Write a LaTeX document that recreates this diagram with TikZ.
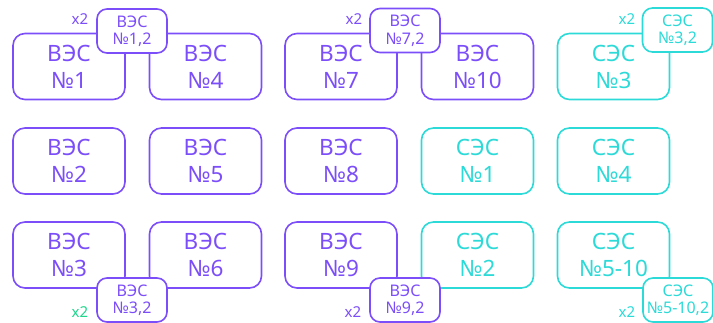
\documentclass[tikz,border=0pt]{standalone}
\usepackage{fontspec}
\setmainfont{Noto Sans}
\definecolor{vio}{RGB}{124,78,250}
\definecolor{cya}{RGB}{44,218,216}
\definecolor{grn}{RGB}{30,214,140}
\begin{document}
\begin{tikzpicture}[x=1pt,y=-1pt,
  bigbox/.style={draw,line width=1.6pt,rounded corners=12pt,minimum width=112pt,minimum height=66pt,align=center,inner sep=0pt,font=\fontsize{22.5}{27}\selectfont,fill=white},
  smallbox/.style={draw,line width=1.6pt,rounded corners=10pt,minimum width=70pt,minimum height=44pt,align=center,inner sep=0pt,font=\fontsize{16}{17.5}\selectfont,fill=white},
  ves/.style={draw=vio,text=vio},
  ses/.style={draw=cya,text=cya},
  xlab/.style={font=\fontsize{15}{15}\selectfont,inner sep=0pt}]
\useasboundingbox (0,0) rectangle (713,323);
% row 1
\node[bigbox,ves] (v1) at (69,66.5) {ВЭС\\№1};
\node[bigbox,ves] (v4) at (205.5,66.5) {ВЭС\\№4};
\node[bigbox,ves] (v7) at (341,66.5) {ВЭС\\№7};
\node[bigbox,ves] (v10) at (477.5,66.5) {ВЭС\\№10};
\node[bigbox,ses] (s3) at (613.5,66.5) {СЭС\\№3};
% row 2
\node[bigbox,ves] (v2) at (69,161) {ВЭС\\№2};
\node[bigbox,ves] (v5) at (205.5,161) {ВЭС\\№5};
\node[bigbox,ves] (v8) at (341,161) {ВЭС\\№8};
\node[bigbox,ses] (s1) at (477.5,161) {СЭС\\№1};
\node[bigbox,ses] (s4) at (613.5,161) {СЭС\\№4};
% row 3
\node[bigbox,ves] (v3) at (69,255) {ВЭС\\№3};
\node[bigbox,ves] (v6) at (205.5,255) {ВЭС\\№6};
\node[bigbox,ves] (v9) at (341,255) {ВЭС\\№9};
\node[bigbox,ses] (s2) at (477.5,255) {СЭС\\№2};
\node[bigbox,ses] (s510) at (613.5,255) {СЭС\\№5-10};
% small boxes
\node[smallbox,ves] (v12) at (132,31) {ВЭС\\№1,2};
\node[smallbox,ves] (v72) at (405,30.5) {ВЭС\\№7,2};
\node[smallbox,ses] (s32) at (677.5,30) {СЭС\\№3,2};
\node[smallbox,ves] (v32) at (132,300) {ВЭС\\№3,2};
\node[smallbox,ves] (v92) at (405,300) {ВЭС\\№9,2};
\node[smallbox,ses] (s5102) at (678,300) {СЭС\\№5-10,2};
% x2 labels
\node[xlab,vio] (x1) at (80,19) {x2};
\node[xlab,vio] (x2) at (354,19) {x2};
\node[xlab,cya] (x3) at (627,19) {x2};
\node[xlab,grn] (x4) at (80,312) {x2};
\node[xlab,vio] (x5) at (353,312) {x2};
\node[xlab,cya] (x6) at (627,312) {x2};
\end{tikzpicture}
\end{document}
